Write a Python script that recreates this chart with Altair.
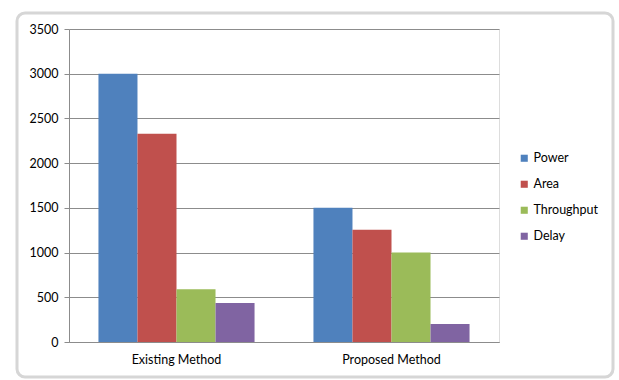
import altair as alt
import pandas as pd

methods = ["Existing Method", "Proposed Method"]
series = ["Power", "Area", "Throughput", "Delay"]
power = [3000, 1500]
area = [2330, 1255]
throughput = [590, 1000]
delay = [435, 200]
colors = ["#4F81BD", "#C0504D", "#9BBB59", "#8064A2"]
y_ticks = [0, 500, 1000, 1500, 2000, 2500, 3000, 3500]

rows = []
for i, m in enumerate(methods):
    for s, vals in zip(series, [power, area, throughput, delay]):
        rows.append({"Method": m, "Series": s, "Value": vals[i]})
df = pd.DataFrame(rows)

FONT = "Lato"
FS = 12.5
GRID = "#8c8c8c"

bars = alt.Chart(df).mark_bar().encode(
    x=alt.X("Method:N", sort=methods, title=None,
            scale=alt.Scale(paddingInner=0.274, paddingOuter=0.137),
            axis=alt.Axis(labelAngle=0, labelFontSize=FS, labelFont=FONT,
                          labelColor="#000000", ticks=False, labelPadding=11,
                          domainColor=GRID, domainWidth=1)),
    xOffset=alt.XOffset("Series:N", sort=series),
    y=alt.Y("Value:Q", title=None,
            scale=alt.Scale(domain=[0, 3500], nice=False),
            axis=alt.Axis(values=y_ticks, format="d", labelFontSize=FS,
                          labelFont=FONT, labelColor="#000000", tickSize=5,
                          tickColor=GRID, labelPadding=6, domainColor=GRID,
                          gridColor=GRID, gridOpacity=1, gridWidth=1)),
    color=alt.Color("Series:N", sort=series,
                    scale=alt.Scale(domain=series, range=colors),
                    legend=alt.Legend(title=None, orient="none", legendX=449,
                                      legendY=123, symbolType="square",
                                      symbolSize=50, symbolStrokeWidth=0,
                                      labelFontSize=FS, labelFont=FONT,
                                      labelColor="#000000", rowPadding=13,
                                      labelOffset=3)),
)

frame = alt.Chart(pd.DataFrame({"a": [0]})).mark_rect(
    filled=False, stroke="#d6d6d6", strokeWidth=3, cornerRadius=8, clip=False
).encode(x=alt.value(-52), x2=alt.value(544), y=alt.value(-16), y2=alt.value(348))

chart = alt.layer(frame, bars).properties(
    width=430, height=313,
    autosize=alt.AutoSizeParams(type="none"),
    padding={"left": 69, "top": 29, "right": 120, "bottom": 38},
).configure_view(stroke=GRID, strokeWidth=1).configure(background="white")

chart.save("out.html", embed_options={"renderer": "svg", "actions": False})
